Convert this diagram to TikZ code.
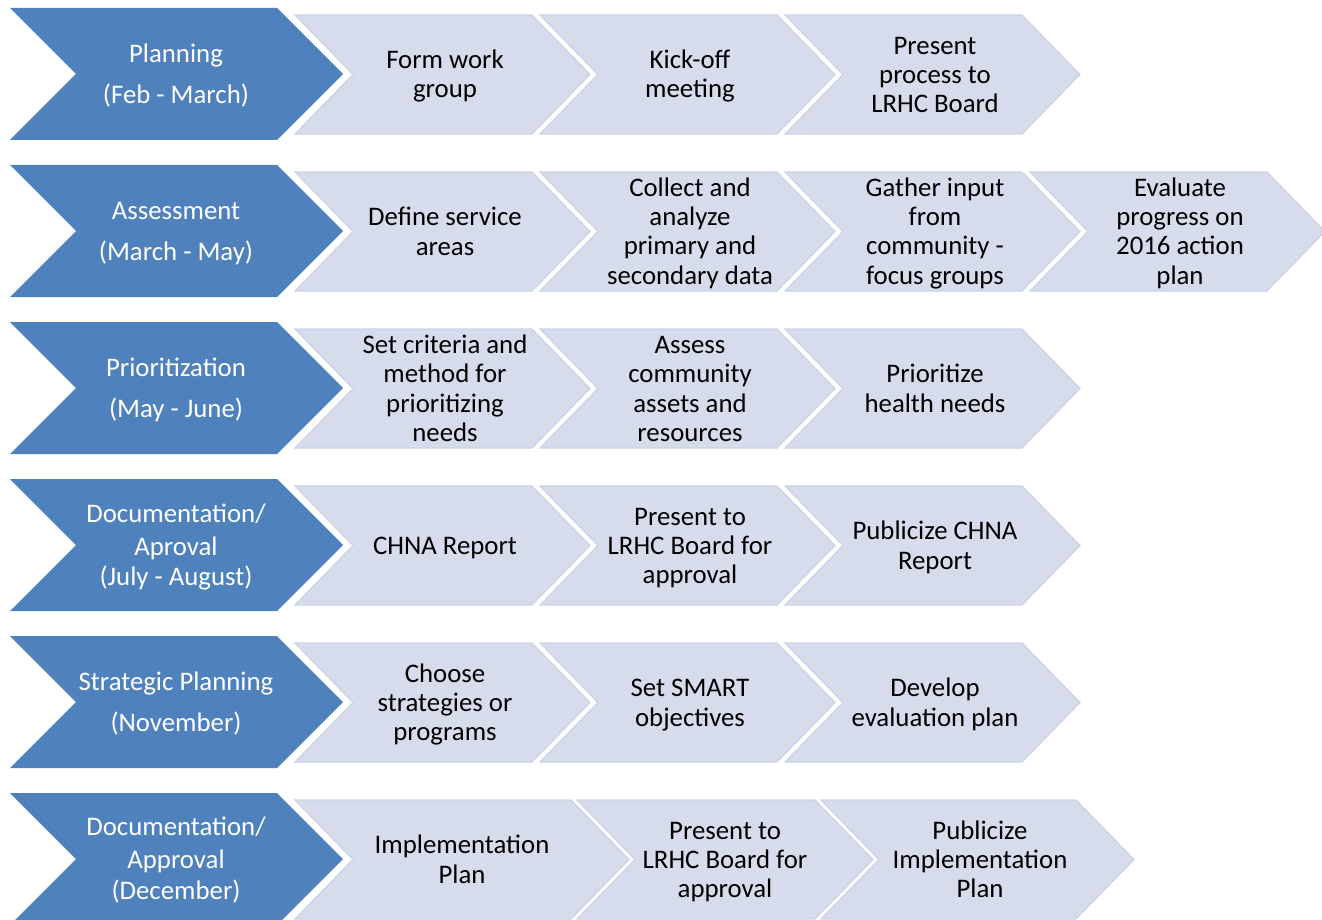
\documentclass[tikz,border=0pt]{standalone}
\usepackage{fontspec}
\setmainfont{Carlito}
\definecolor{phaseblue}{RGB}{79,129,189}
\definecolor{stepfillc}{RGB}{214,220,235}
\definecolor{stepline}{RGB}{203,211,229}
\newcommand\lnstrut{\rule[-5.8pt]{0pt}{29.3pt}}
\tikzset{
  phasefill/.style={fill=phaseblue},
  stepfill/.style={fill=stepfillc, draw=stepline, line width=1.2pt, line join=miter},
  phasetext/.style={text=white, align=center, inner sep=0pt,
    font=\fontsize{26.8}{29.3}\selectfont},
  steptext/.style={text=black, align=center, inner sep=0pt,
    font=\fontsize{26.8}{29.3}\selectfont},
}
% blue phase chevron: name, row, label
\newcommand\phasechev[3]{%
  \pgfmathsetmacro\yt{8+157*#2}%
  \fill[phasefill] (10,\yt) -- (277,\yt) -- (343,\yt+66) -- (277,\yt+132)
    -- (10,\yt+132) -- (76,\yt+66) -- cycle;
  \node[phasetext] (#1) at (176,\yt+66) {#3};
}
% light step chevron: name, row, left x, top-right x, label x, label
\newcommand\stepchev[6]{%
  \pgfmathsetmacro\yt{15+157*#2}%
  \filldraw[stepfill] (#3,\yt) -- (#4,\yt) -- (#4+58,\yt+59.5) -- (#4,\yt+119)
    -- (#3,\yt+119) -- (#3+58,\yt+59.5) -- cycle;
  \node[steptext] (#1) at (#5,\yt+59.5) {#6};
}
\begin{document}
\begin{tikzpicture}[x=1pt,y=-1pt]
\useasboundingbox (0,0) rectangle (1322,920);

% Planning
\phasechev{planning}{0}{\lnstrut Planning\\[11.5pt]\lnstrut (Feb - March)}
\stepchev{formgroup}{0}{295}{532}{445}{\lnstrut Form work\\\lnstrut group}
\stepchev{kickoff}{0}{540}{777}{690}{\lnstrut Kick-off\\\lnstrut meeting}
\stepchev{presentproc}{0}{785}{1022}{935}{\lnstrut Present\\\lnstrut process to\\\lnstrut LRHC Board}

% Assessment
\phasechev{assessment}{1}{\lnstrut Assessment\\[11.5pt]\lnstrut (March - May)}
\stepchev{servareas}{1}{295}{532}{445}{\lnstrut Define service\\\lnstrut areas}
\stepchev{collect}{1}{540}{777}{690}{\lnstrut Collect and\\\lnstrut analyze\\\lnstrut primary and\\\lnstrut secondary data}
\stepchev{gather}{1}{785}{1022}{935}{\lnstrut Gather input\\\lnstrut from\\\lnstrut community -\\\lnstrut focus groups}
\stepchev{evaluate}{1}{1030}{1267}{1180}{\lnstrut Evaluate\\\lnstrut progress on\\\lnstrut 2016 action\\\lnstrut plan}

% Prioritization
\phasechev{prioritization}{2}{\lnstrut Prioritization\\[11.5pt]\lnstrut (May - June)}
\stepchev{criteria}{2}{295}{532}{445}{\lnstrut Set criteria and\\\lnstrut method for\\\lnstrut prioritizing\\\lnstrut needs}
\stepchev{assets}{2}{540}{777}{690}{\lnstrut Assess\\\lnstrut community\\\lnstrut assets and\\\lnstrut resources}
\stepchev{prioneeds}{2}{785}{1022}{935}{\lnstrut Prioritize\\\lnstrut health needs}

% Documentation / approval of the report
\phasechev{docreport}{3}{\lnstrut Documentation/\\[3.7pt]\lnstrut Aproval\\\lnstrut (July - August)}
\stepchev{chnareport}{3}{295}{532}{445}{\lnstrut CHNA Report}
\stepchev{boardreport}{3}{540}{777}{690}{\lnstrut Present to\\\lnstrut LRHC Board for\\\lnstrut approval}
\stepchev{pubreport}{3}{785}{1022}{935}{\lnstrut Publicize CHNA\\\lnstrut Report}

% Strategic planning
\phasechev{strategic}{4}{\lnstrut Strategic Planning\\[11.5pt]\lnstrut (November)}
\stepchev{strategies}{4}{295}{532}{445}{\lnstrut Choose\\\lnstrut strategies or\\\lnstrut programs}
\stepchev{smart}{4}{540}{777}{690}{\lnstrut Set SMART\\\lnstrut objectives}
\stepchev{evalplan}{4}{785}{1022}{935}{\lnstrut Develop\\\lnstrut evaluation plan}

% Documentation / approval of the implementation plan
\phasechev{docplan}{5}{\lnstrut Documentation/\\[3.7pt]\lnstrut Approval\\[1.7pt]\lnstrut (December)}
\stepchev{implplan}{5}{295}{571}{462}{\lnstrut Implementation\\\lnstrut Plan}
\stepchev{boardplan}{5}{577}{815}{725}{\lnstrut Present to\\\lnstrut LRHC Board for\\\lnstrut approval}
\stepchev{pubplan}{5}{821}{1076}{980}{\lnstrut Publicize\\\lnstrut Implementation\\\lnstrut Plan}
\end{tikzpicture}
\end{document}
